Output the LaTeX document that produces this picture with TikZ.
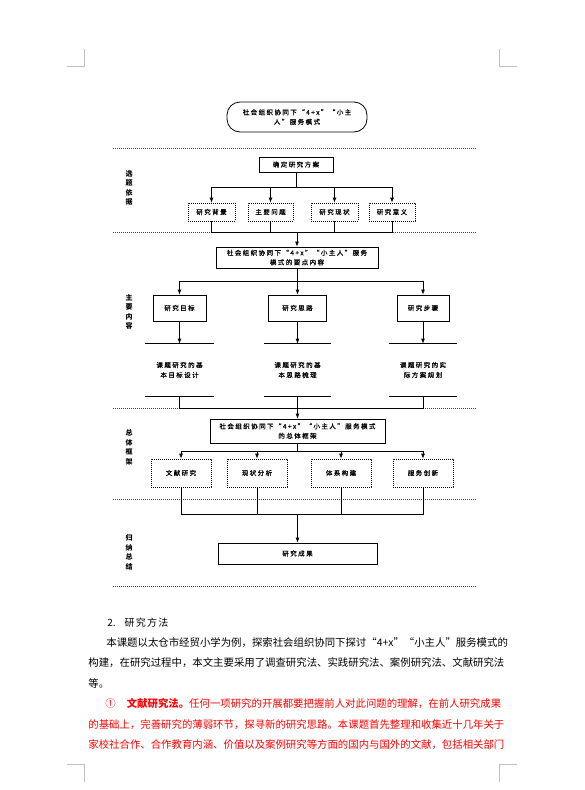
\documentclass[tikz,border=0pt]{standalone}
\usepackage{fontspec}
\setmainfont{Liberation Sans}
\newfontfamily\cjk{Noto Sans CJK SC}
\newfontfamily\cjkchart[LetterSpace=22,FakeBold=0.6]{Noto Sans CJK SC}
\newfontfamily\cjkhead[LetterSpace=12]{Noto Sans CJK SC}
\usetikzlibrary{positioning,arrows.meta}

\begin{document}
\begin{tikzpicture}[
    x=1pt, y=-1pt,
    box/.style={draw, line width=0.8pt, inner sep=0pt, align=center,
      font=\cjkchart\fontsize{6.5}{9.5}\selectfont},
    dotbox/.style={box, line width=0.7pt, dash pattern=on 0.8pt off 1.2pt},
    band/.style={inner sep=0pt, align=center,
      font=\cjkchart\fontsize{6.5}{10}\selectfont},
    sep/.style={line width=0.6pt, dash pattern=on 0.6pt off 1.4pt, black!75},
    side/.style={align=center, inner sep=0pt,
      font=\cjk\bfseries\fontsize{7}{9.5}\selectfont},
    body/.style={anchor=west, inner sep=0pt,
      font=\cjk\fontsize{10.4}{12}\selectfont},
    crop/.style={line width=0.6pt, black!25},
    every path/.style={line width=0.8pt},
    >={Latex[length=5pt,width=4pt]}
]

  % page
  \fill[white] (0,0) rectangle (584,790);
  \useasboundingbox (0,0) rectangle (584,790);

  % crop marks
  \draw[crop] (67,66) -- (84,66) -- (84,49);
  \draw[crop] (517,66) -- (499,66) -- (499,49);
  \draw[crop] (67,764) -- (84,764) -- (84,782);
  \draw[crop] (517,764) -- (499,764) -- (499,782);

  % section separators
  \foreach \y in {148,232,408,499,586}
  \draw[sep] (113,\y) -- (476,\y);

  % side labels
  \node[side] (lb1) at (129,188) {选\\题\\依\\据};
  \node[side] (lb2) at (129,312) {主\\要\\内\\容};
  \node[side] (lb3) at (129,447.5) {总\\体\\框\\架};
  \node[side] (lb4) at (129,552.5) {归\\纳\\总\\结};

  % boxes
  \node[box, rounded corners=13pt, minimum width=140pt, minimum height=30pt] (title) at (297,117)
    {社会组织协同下“4+x”“小主\\人”服务模式};
  \node[box, minimum width=74pt, minimum height=15pt] (plan) at (296,164.5) {确定研究方案};

  \foreach \name/\x/\w/\txt in {bg1/211.5/47/研究背景, bg2/270.5/45/主要问题,
                                bg3/334.5/47/研究现状, bg4/392/46/研究意义}
  \node[dotbox, minimum width=\w pt, minimum height=18pt] (\name) at (\x,212) {\txt};

  \node[box, minimum width=162pt, minimum height=21pt] (key) at (297,257.5)
    {社会组织协同下“4+x”“小主人”服务\\模式的要点内容};

  \foreach \name/\x/\w/\txt in {ct1/179.5/53/研究目标, ct2/297.5/58/研究思路, ct3/423/52/研究步骤}
  \node[box, minimum width=\w pt, minimum height=26pt] (\name) at (\x,308) {\txt};

  \foreach \name/\x/\w/\txt in {bd1/179.5/69/{课题研究的基\\本目标设计},
                                bd2/297.5/66/{课题研究的基\\本思路梳理},
                                bd3/423/68/{课题研究的实\\际方案规划}}
  {
    \node[band, minimum width=\w pt, minimum height=52pt] (\name) at (\x,370) {\txt};
    \draw (\name.north west) -- (\name.north east);
    \draw (\name.south west) -- (\name.south east);
  }

  \node[box, minimum width=175pt, minimum height=24pt] (frame) at (297.5,431)
    {社会组织协同下“4+x”“小主人”服务模式\\的总体框架};

  \foreach \name/\x/\txt in {fw1/181/文献研究, fw2/257/现状分析, fw3/341/体系构建, fw4/423/服务创新}
  \node[dotbox, minimum width=60pt, minimum height=28pt] (\name) at (\x,473) {\txt};

  \node[box, minimum width=159pt, minimum height=21pt] (result) at (297.5,553.5) {研究成果};

  % junctions
  \coordinate (j1) at (296,187);
  \coordinate (j2) at (297,232);
  \coordinate (j3) at (297,281);
  \coordinate (j4) at (297.5,408);
  \coordinate (j5) at (297.5,451);
  \coordinate (j6) at (297.5,514);

  % connections
  \draw (plan.south) -- (j1);
  \foreach \n in {bg1,bg2,bg3,bg4}
  {
    \draw[->] (j1) -| (\n.north);
    \draw (\n.south) |- (j2);
  }
  \draw[->] (j2) -- (key.north);

  \draw (key.south) -- (j3);
  \foreach \i in {1,2,3}
  {
    \draw[->] (j3) -| (ct\i.north);
    \draw[->] (ct\i.south) -- (bd\i.north);
    \draw (bd\i.south) |- (j4);
  }
  \draw[->] (j4) -- (frame.north);

  \draw (frame.south) -- (j5);
  \foreach \n in {fw1,fw2,fw3,fw4}
  {
    \draw[->] (j5) -| (\n.north);
    \draw (\n.south) |- (j6);
  }
  \draw[->] (j6) -- (result.north);

  % text below
  \node[body] (h2) at (107,623) {\fontsize{10}{12}\selectfont 2.\hspace{9pt}{\cjkhead 研究方法}};
  \node[body] (p1) at (106,643) {本课题以太仓市经贸小学为例，探索社会组织协同下探讨“4+x”“小主人”服务模式的};
  \node[body] (p2) at (88,663) {构建，在研究过程中，本文主要采用了调查研究法、实践研究法、案例研究法、文献研究法};
  \node[body] (p3) at (88,684) {等。};
  \node[body, red] (p4) at (105,704) {①\hspace{11pt}\textbf{文献研究法。}任何一项研究的开展都要把握前人对此问题的理解，在前人研究成果};
  \node[body, red] (p5) at (88,725) {的基础上，完善研究的薄弱环节，探寻新的研究思路。本课题首先整理和收集近十几年关于};
  \node[body, red] (p6) at (88,745) {家校社合作、合作教育内涵、价值以及案例研究等方面的国内与国外的文献，包括相关部门};

\end{tikzpicture}
\end{document}
